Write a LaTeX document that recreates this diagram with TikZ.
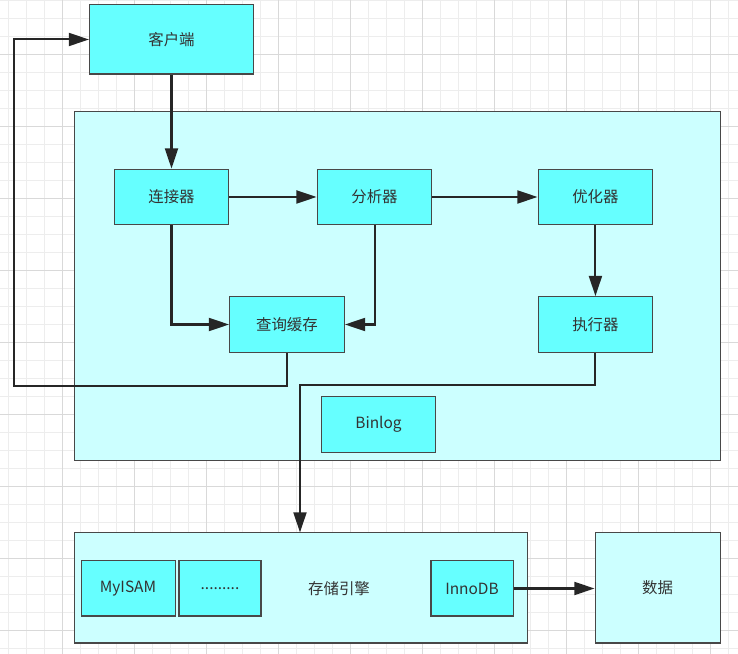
\documentclass[tikz,border=0pt]{standalone}
\usepackage{fontspec}
\setmainfont{Noto Sans CJK SC}
\usetikzlibrary{positioning,arrows.meta}

\definecolor{boxcyan}{RGB}{102,255,255}
\definecolor{panelcyan}{RGB}{204,255,255}
\definecolor{edgegray}{RGB}{72,72,72}
\definecolor{inkgray}{RGB}{51,51,51}

\begin{document}
\begin{tikzpicture}[
  box/.style={draw=edgegray,line width=0.8pt,fill=boxcyan,minimum width=3.19cm,minimum height=1.55cm,inner sep=0pt,text=inkgray},
  panel/.style={draw=edgegray,line width=0.8pt,fill=panelcyan},
  flow/.style={draw=black!85,line width=1.6pt,-{Triangle[length=5.6mm,width=3.6mm]}},
  gridminor/.style={draw=black!7,line width=0.6pt},
  gridmajor/.style={draw=black!15,line width=0.6pt},
  font=\fontsize{12.2}{14}\selectfont]
\useasboundingbox (0,0) rectangle (20.5,-18.14);
\clip (0,0) rectangle (20.5,-18.14);

% background grid
\draw[gridminor,shift={(0.242,-0.014)}] (-1,-19) grid[step=0.5] (21,1);
\draw[gridmajor,shift={(1.742,-1.514)}] (-4,-18) grid[step=2] (20,2);

% server panel and storage panel
\draw[panel] (2.083,-3.111) rectangle (20,-12.778);
\node[panel,minimum width=12.556cm,minimum height=3.056cm,inner sep=0pt] (store) at (8.361,-16.333) {};
\node[text=inkgray] (storetxt) at (9.417,-16.36) {存储引擎};

\node[box,minimum width=4.556cm,minimum height=1.917cm] (client) at (4.764,-1.097) {客户端};
\node[box] (conn) at (4.764,-5.472) {连接器};
\node[box] (ana) at (10.403,-5.472) {分析器};
\node[box] (opt) at (16.54,-5.472) {优化器};
\node[box] (cache) at (7.972,-9.014) {查询缓存};
\node[box] (exec) at (16.54,-9.014) {执行器};
\node[box] (binlog) at (10.514,-11.79) {Binlog};

\node[box,minimum width=2.611cm,minimum height=1.528cm] (myisam) at (3.556,-16.347) {MyISAM};
\node[box,minimum width=2.278cm,minimum height=1.528cm] (other) at (6.111,-16.347) {.........};
\node[box,minimum width=2.278cm,minimum height=1.528cm] (innodb) at (13.111,-16.347) {InnoDB};
\node[panel,minimum width=3.472cm,minimum height=3.056cm,text=inkgray] (data) at (18.264,-16.333) {数据};

\coordinate (back) at (0.389,-10.72);
\coordinate (turn) at (8.333,-10.69);

\draw[flow] (client) -- (conn);
\draw[flow] (conn) -- (ana);
\draw[flow] (ana) -- (opt);
\draw[flow] (opt) -- (exec);
\draw[flow] (conn.south) |- (cache.west);
\draw[flow] (ana.south) |- (cache.east);
\draw[flow] (cache.south) |- (back) |- (client.west);
\draw[flow] (exec.south) |- (turn) -- (turn |- store.north);
\draw[flow] (innodb.east) -- (innodb.east -| data.west);

\end{tikzpicture}
\end{document}
